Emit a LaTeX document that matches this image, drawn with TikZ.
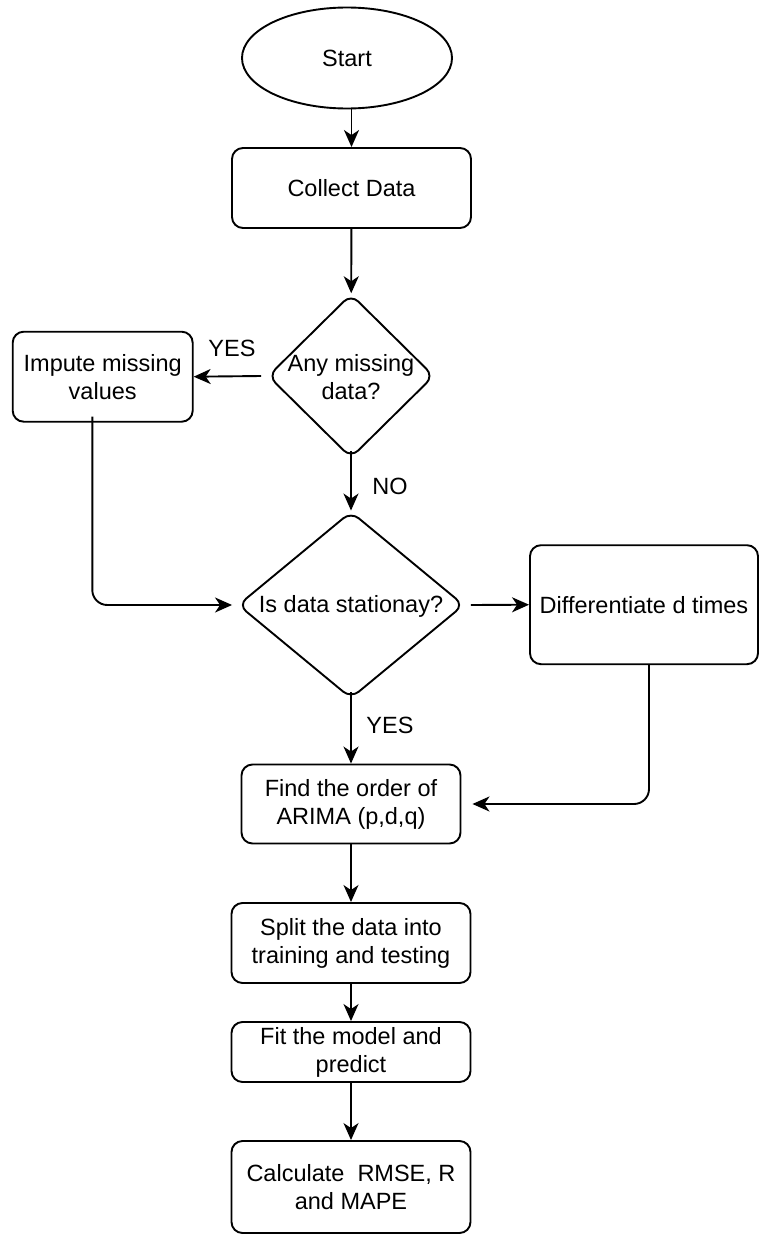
\documentclass[tikz,border=0pt]{standalone}
\usepackage{fontspec}
\setmainfont{Liberation Sans}
\usetikzlibrary{shapes.geometric,arrows.meta}
\begin{document}
\begin{tikzpicture}[x=1pt,y=-1pt,
  every node/.style={font=\fontsize{23.5}{28}\selectfont},
  box/.style={draw, rounded corners=11pt, line width=1.9pt, align=center, inner sep=0pt},
  decision/.style={draw, diamond, rounded corners=10pt, line width=1.9pt, inner sep=0pt},
  term/.style={draw, ellipse, line width=1.9pt, inner sep=0pt},
  flow/.style={line width=1.9pt, -{Stealth[length=17pt,width=15pt,inset=5pt]}},
  lbl/.style={inner sep=0pt, align=center}]
\useasboundingbox (0,0) rectangle (760,1234);

\node[term, minimum width=210, minimum height=101] (start) at (347,58) {Start};
\node[box, minimum width=239, minimum height=80] (collect) at (351.5,188) {Collect Data};
\node[decision, minimum width=166, minimum height=164] (d1) at (351,376) {};
\node[lbl] (d1t) at (351,377) {Any missing\\data?};
\node[box, minimum width=180, minimum height=90] (impute) at (102.7,376.7) {Impute missing\\values};
\node[decision, minimum width=226, minimum height=187] (d2) at (351,605) {};
\node[lbl] (d2t) at (351,606) {Is data stationay?};
\node[box, minimum width=228, minimum height=119] (diff) at (644,604.7) {Differentiate d times};
\node[box, minimum width=219, minimum height=79] (find) at (351,804) {Find the order of\\ARIMA (p,d,q)};
\node[box, minimum width=239, minimum height=80] (split) at (351,943) {Split the data into\\training and testing};
\node[box, minimum width=239, minimum height=60] (fit) at (351,1052) {Fit the model and\\predict};
\node[box, minimum width=239, minimum height=92] (calc) at (351,1187) {Calculate\ \ RMSE, R\\and MAPE};

\node[lbl] (yes1) at (232,348) {YES};
\node[lbl] (no1) at (390,486) {NO};
\node[lbl] (yes2) at (390,725) {YES};

\draw[flow] (collect.north |- start.south) -- (collect.north);
\draw[flow] (collect) -- (d1);
\draw[flow] ([xshift=-6]d1.west) -- (impute.east);
\draw[flow] ([yshift=8]d1.south) -- (d2.north);
\draw[flow, rounded corners=15pt] ([xshift=-10.4,yshift=6]impute.south) |- ([xshift=-5]d2.west);
\draw[flow] ([xshift=6]d2.east) -- (diff.west);
\draw[flow, rounded corners=15pt] ([xshift=5]diff.south) |- ([xshift=11]find.east);
\draw[flow] ([yshift=7]d2.south) -- (find.north);
\draw[flow] (find) -- (split);
\draw[flow] (split) -- (fit);
\draw[flow] (fit) -- (calc);
\end{tikzpicture}
\end{document}
